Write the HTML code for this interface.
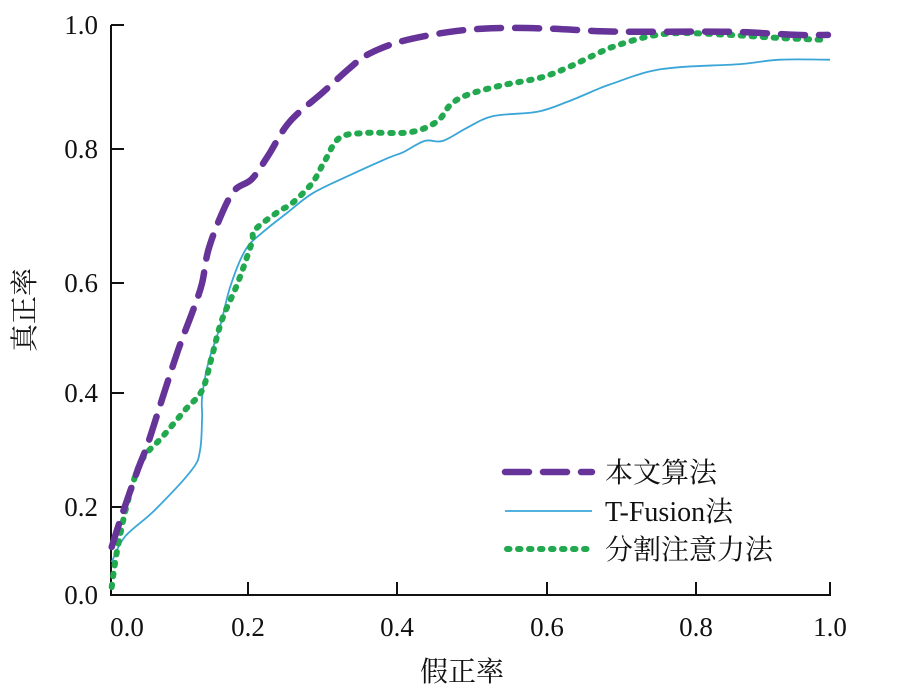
<!DOCTYPE html>
<html><head><meta charset="utf-8">
<style>
html,body{margin:0;padding:0;background:#fff;}
svg{display:block;}
text{font-family:"Liberation Serif","Noto Serif CJK SC","Noto Sans CJK SC",serif;fill:#111;}
</style></head>
<body>
<svg id="chart" width="910" height="694" viewBox="0 0 910 694">
<g id="axes"></g>
<g id="series"></g>
<g id="legend">
  <line x1="505" y1="472" x2="592" y2="472" stroke="#663399" stroke-width="6.5" stroke-linecap="round" stroke-dasharray="24,14"/>
  <text x="605" y="482" font-size="28">本文算法</text>
  <line x1="505" y1="511" x2="592" y2="511" stroke="#3aa6d8" stroke-width="1.8"/>
  <text x="605" y="521" font-size="28">T-Fusion法</text>
  <line x1="507" y1="549" x2="592" y2="549" stroke="#22a84f" stroke-width="6" stroke-linecap="round" stroke-dasharray="2.5,8.5"/>
  <text x="605" y="559" font-size="28">分割注意力法</text>
</g>
<text x="462" y="681" font-size="28" text-anchor="middle">假正率</text>
<text x="0" y="0" font-size="28" text-anchor="middle" transform="translate(34,310) rotate(-90)">真正率</text>
</svg>
<script>
const xTicks=[0,0.2,0.4,0.6,0.8,1.0];
const yTicks=[0,0.2,0.4,0.6,0.8,1.0];
const xTickLabels=["0.0","0.2","0.4","0.6","0.8","1.0"];
const yTickLabels=["0.0","0.2","0.4","0.6","0.8","1.0"];
const oursX=[0.001,0.016,0.039,0.054,0.074,0.098,0.120,0.133,0.142,0.162,0.181,0.205,0.227,0.256,0.301,0.337,0.360,0.404,0.471,0.533,0.604,0.671,0.734,0.851,0.951,0.997];
const oursY=[0.109,0.182,0.265,0.312,0.387,0.478,0.551,0.600,0.649,0.704,0.739,0.755,0.790,0.844,0.892,0.931,0.952,0.973,0.989,0.995,0.994,0.990,0.989,0.989,0.984,0.984];
const tfX=[0.001,0.020,0.064,0.118,0.130,0.133,0.133,0.142,0.159,0.174,0.196,0.219,0.254,0.287,0.337,0.389,0.408,0.437,0.461,0.493,0.528,0.587,0.627,0.671,0.689,0.734,0.778,0.866,0.925,1.0];
const tfY=[0.075,0.132,0.193,0.265,0.300,0.358,0.393,0.455,0.520,0.593,0.649,0.675,0.706,0.734,0.761,0.787,0.795,0.813,0.813,0.834,0.853,0.860,0.876,0.898,0.906,0.924,0.932,0.937,0.944,0.944];
const attX=[0.001,0.009,0.025,0.045,0.075,0.108,0.133,0.147,0.162,0.185,0.205,0.209,0.240,0.259,0.286,0.303,0.323,0.359,0.417,0.453,0.471,0.493,0.537,0.591,0.627,0.671,0.689,0.734,0.778,0.851,0.925,0.995];
const attY=[0.018,0.102,0.212,0.282,0.323,0.370,0.405,0.465,0.533,0.600,0.660,0.679,0.706,0.719,0.749,0.782,0.818,0.826,0.827,0.844,0.871,0.887,0.902,0.915,0.931,0.956,0.965,0.981,0.987,0.984,0.979,0.976];

const XPX=[111,248,397,547,696,830];
const YPX=[595,507,393,283,149,25];
function pw(v,ticks,px){
  for(let i=0;i<ticks.length-1;i++){
    if(v<=ticks[i+1]||i===ticks.length-2){
      const t=(v-ticks[i])/(ticks[i+1]-ticks[i]);
      return px[i]+t*(px[i+1]-px[i]);
    }
  }
}
function sx(v){return pw(v,xTicks,XPX);}
function sy(v){return pw(v,yTicks,YPX);}
const NS="http://www.w3.org/2000/svg";
const axes=document.getElementById('axes');
function mk(tag,attrs,parent){const e=document.createElementNS(NS,tag);for(const k in attrs)e.setAttribute(k,attrs[k]);parent.appendChild(e);return e;}

const xa=mk('line',{x1:sx(0)-1,y1:sy(0),x2:sx(1)+1,y2:sy(0),stroke:'#111','stroke-width':2},axes);


const ya=mk('line',{x1:sx(0),y1:sy(0)+1,x2:sx(0),y2:sy(1),stroke:'#111','stroke-width':2},axes);



xTicks.forEach((v,i)=>{
  if(i>0){
    const t=mk('line',{x1:sx(v),y1:sy(0),x2:sx(v),y2:sy(0)-13,stroke:'#111','stroke-width':2},axes);
    
    
  }
  const lx=i===0?127:sx(v);
  const l=mk('text',{x:lx,y:636,'font-size':27,'text-anchor':'middle'},axes);
  l.textContent=xTickLabels[i];
  
  
});
yTicks.forEach((v,i)=>{
  if(i>0){
    const t=mk('line',{x1:sx(0),y1:sy(v),x2:sx(0)+13,y2:sy(v),stroke:'#111','stroke-width':2},axes);
    
    
  }
  const l=mk('text',{x:98,y:sy(v)+9,'font-size':27,'text-anchor':'end'},axes);
  l.textContent=yTickLabels[i];
  
  
});

const series=document.getElementById('series');
function pathD(xs,ys){
  const P=xs.map((x,i)=>[sx(x),sy(ys[i])]);
  let d='M'+P[0][0].toFixed(1)+','+P[0][1].toFixed(1);
  for(let i=0;i<P.length-1;i++){
    const p0=P[Math.max(0,i-1)],p1=P[i],p2=P[i+1],p3=P[Math.min(P.length-1,i+2)];
    const c1=[p1[0]+(p2[0]-p0[0])/6,p1[1]+(p2[1]-p0[1])/6];
    const c2=[p2[0]-(p3[0]-p1[0])/6,p2[1]-(p3[1]-p1[1])/6];
    d+=' C'+c1[0].toFixed(1)+','+c1[1].toFixed(1)+' '+c2[0].toFixed(1)+','+c2[1].toFixed(1)+' '+p2[0].toFixed(1)+','+p2[1].toFixed(1);
  }
  return d;
}
const p2=mk('path',{d:pathD(tfX,tfY),fill:'none',stroke:'#3aa6d8','stroke-width':1.8,'stroke-linejoin':'round'},series);


const p3=mk('path',{d:pathD(attX,attY),fill:'none',stroke:'#22a84f','stroke-width':6,'stroke-linecap':'round','stroke-dasharray':'2.5,8.5','stroke-linejoin':'round'},series);


const p1=mk('path',{d:pathD(oursX,oursY),fill:'none',stroke:'#663399','stroke-width':6.5,'stroke-linecap':'round','stroke-dasharray':'24,14','stroke-linejoin':'round'},series);


</script>
</body></html>
